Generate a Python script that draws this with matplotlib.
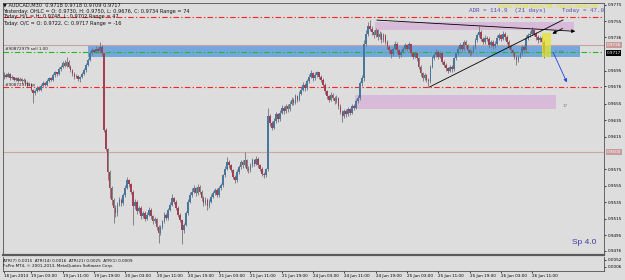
import matplotlib
matplotlib.use("Agg")
import matplotlib.pyplot as plt
import numpy as np

# ---------------- data (prices in 1/10000, i.e. 9717 = 0.9717) ----------------
opens = [9688,9690,9688,9691,9686,9687,9684,9686,9683,9685,9682,9684,9680,9677,9679,9672,9668,9671,9674,9672,
         9677,9680,9678,9683,9686,9684,9690,9693,9691,9697,9700,9704,9701,9706,9700,9696,9691,9687,9689,9685,
         9687,9691,9696,9702,9708,9716,9720,9718,9722,9719,9724,9716,9623,9600,9572,9552,9538,9528,9522,9532,
         9538,9534,9544,9553,9562,9557,9548,9530,9536,9524,9528,9518,9522,9515,9520,9526,9518,9512,9515,9505,
         9498,9505,9512,9520,9516,9526,9532,9540,9536,9528,9520,9514,9502,9508,9522,9536,9544,9548,9552,9546,
         9554,9548,9540,9534,9538,9530,9536,9542,9546,9550,9544,9552,9556,9568,9576,9584,9580,9574,9566,9562,
         9572,9578,9584,9580,9586,9576,9574,9580,9586,9582,9588,9580,9576,9570,9568,9575,9640,9632,9626,9634,
         9642,9636,9644,9650,9646,9652,9648,9655,9660,9656,9664,9660,9667,9672,9678,9674,9682,9688,9692,9686,
         9690,9693,9688,9684,9678,9670,9664,9660,9666,9662,9658,9662,9652,9645,9640,9646,9642,9648,9644,9652,
         9650,9658,9662,9680,9686,9728,9740,9750,9746,9742,9738,9744,9736,9740,9732,9738,9730,9724,9720,9715,
         9722,9728,9720,9714,9718,9722,9726,9722,9727,9716,9712,9716,9710,9700,9692,9686,9690,9684,9682,9700,
         9710,9714,9718,9712,9716,9706,9702,9698,9695,9700,9697,9710,9716,9722,9726,9722,9730,9726,9720,9716,
         9718,9724,9732,9738,9742,9734,9730,9735,9734,9726,9730,9725,9728,9735,9738,9734,9740,9736,9730,9724,
         9720,9716,9712,9708,9712,9716,9724,9720,9735,9738,9740,9744,9740,9736,9732,9735,9730]
highs = [9693,9692,9693,9692,9690,9688,9688,9687,9687,9686,9686,9685,9682,9681,9680,9673,9673,9676,9676,9679,
         9682,9681,9685,9688,9687,9692,9695,9694,9699,9702,9707,9708,9712,9708,9702,9697,9693,9691,9690,9689,
         9693,9698,9704,9710,9719,9723,9722,9725,9724,9730,9726,9717,9625,9601,9574,9555,9540,9532,9535,9542,
         9540,9546,9556,9566,9564,9558,9550,9539,9538,9531,9530,9524,9525,9523,9529,9528,9520,9517,9516,9507,
         9507,9514,9523,9522,9528,9535,9545,9542,9538,9530,9522,9515,9510,9524,9539,9547,9552,9556,9554,9557,
         9556,9550,9543,9541,9540,9539,9545,9549,9553,9552,9555,9559,9570,9579,9590,9586,9582,9576,9568,9575,
         9581,9587,9586,9596,9588,9579,9583,9589,9588,9591,9590,9582,9578,9572,9577,9650,9643,9634,9637,9645,
         9644,9647,9653,9652,9655,9654,9658,9663,9662,9667,9666,9670,9675,9681,9680,9685,9691,9696,9694,9693,
         9695,9694,9690,9686,9680,9672,9666,9669,9668,9664,9665,9663,9654,9647,9649,9648,9651,9650,9655,9654,
         9661,9665,9683,9690,9732,9744,9754,9757,9749,9744,9747,9746,9743,9742,9741,9740,9732,9726,9722,9724,
         9731,9730,9722,9720,9724,9729,9728,9730,9728,9718,9718,9717,9712,9702,9694,9692,9691,9686,9702,9713,
         9717,9721,9720,9719,9717,9708,9704,9700,9702,9702,9712,9718,9725,9729,9728,9733,9732,9727,9722,9720,
         9726,9735,9741,9750,9744,9736,9738,9737,9736,9732,9732,9731,9738,9741,9740,9743,9742,9738,9732,9726,
         9722,9718,9714,9714,9718,9726,9726,9738,9741,9743,9748,9746,9742,9738,9737,9737,9732]
lows = [9685,9686,9687,9684,9685,9682,9683,9681,9682,9680,9681,9678,9675,9676,9670,9656,9666,9669,9670,9671,
        9675,9676,9677,9681,9682,9683,9688,9689,9690,9695,9698,9699,9700,9698,9694,9689,9685,9686,9683,9681,
        9686,9690,9694,9701,9707,9714,9716,9716,9717,9717,9713,9621,9597,9562,9540,9532,9510,9517,9519,9530,
        9531,9532,9542,9551,9554,9545,9507,9527,9521,9522,9515,9516,9512,9513,9518,9515,9509,9510,9502,9485,
        9495,9503,9510,9513,9514,9524,9530,9533,9526,9517,9511,9484,9498,9506,9520,9534,9541,9546,9543,9544,
        9545,9537,9530,9532,9526,9528,9534,9540,9544,9541,9542,9550,9554,9566,9574,9577,9572,9563,9558,9560,
        9570,9576,9577,9578,9573,9571,9572,9578,9579,9580,9577,9573,9567,9565,9566,9573,9628,9623,9624,9632,
        9633,9634,9642,9643,9644,9645,9646,9653,9653,9654,9657,9658,9665,9670,9671,9672,9680,9686,9683,9684,
        9688,9685,9681,9675,9667,9661,9657,9658,9659,9655,9656,9649,9642,9633,9638,9639,9640,9641,9642,9647,
        9648,9656,9660,9677,9683,9725,9737,9743,9739,9735,9736,9733,9734,9729,9730,9727,9721,9717,9710,9713,
        9720,9717,9711,9712,9716,9720,9719,9720,9713,9709,9710,9707,9697,9689,9682,9684,9681,9676,9680,9698,
        9708,9712,9709,9710,9703,9699,9695,9692,9693,9694,9695,9708,9714,9720,9719,9720,9723,9717,9713,9714,
        9716,9722,9730,9736,9731,9727,9728,9731,9723,9724,9722,9723,9726,9733,9731,9732,9733,9727,9721,9717,
        9713,9709,9702,9706,9710,9714,9717,9718,9733,9736,9738,9737,9733,9729,9730,9727,9710]
closes = [9690,9688,9691,9686,9687,9684,9686,9683,9685,9682,9684,9680,9677,9679,9672,9668,9671,9674,9672,9677,
          9680,9678,9683,9686,9684,9690,9693,9691,9697,9700,9704,9701,9706,9700,9696,9691,9687,9689,9685,9687,
          9691,9696,9702,9708,9716,9720,9718,9722,9719,9724,9716,9623,9600,9572,9552,9538,9528,9522,9532,9538,
          9534,9544,9553,9562,9557,9548,9530,9536,9524,9528,9518,9522,9515,9520,9526,9518,9512,9515,9505,9498,
          9505,9512,9520,9516,9526,9532,9540,9536,9528,9520,9514,9502,9508,9522,9536,9544,9548,9552,9546,9554,
          9548,9540,9534,9538,9530,9536,9542,9546,9550,9544,9552,9556,9568,9576,9584,9580,9574,9566,9562,9572,
          9578,9584,9580,9586,9576,9574,9580,9586,9582,9588,9580,9576,9570,9568,9575,9640,9632,9626,9634,9642,
          9636,9644,9650,9646,9652,9648,9655,9660,9656,9664,9660,9667,9672,9678,9674,9682,9688,9692,9686,9690,
          9693,9688,9684,9678,9670,9664,9660,9666,9662,9658,9662,9652,9645,9640,9646,9642,9648,9644,9652,9650,
          9658,9662,9680,9686,9728,9740,9750,9746,9742,9738,9744,9736,9740,9732,9738,9730,9724,9720,9715,9722,
          9728,9720,9714,9718,9722,9726,9722,9727,9716,9712,9716,9710,9700,9692,9686,9690,9684,9682,9700,9710,
          9714,9718,9712,9716,9706,9702,9698,9695,9700,9697,9710,9716,9722,9726,9722,9730,9726,9720,9716,9718,
          9724,9732,9738,9742,9734,9730,9735,9734,9726,9730,9725,9728,9735,9738,9734,9740,9736,9730,9724,9720,
          9716,9712,9708,9712,9716,9724,9720,9735,9738,9740,9744,9740,9736,9732,9735,9730,9717]

time_tick_bars = [0, 14, 30, 46, 62, 78, 94, 110, 126, 142, 158, 174, 190, 206, 222, 238, 254, 270]
time_tick_labels = ["18 Jun 2013", "19 Jun 03:00", "19 Jun 11:00", "19 Jun 19:00", "20 Jun 03:00",
                    "20 Jun 11:00", "20 Jun 19:00", "21 Jun 03:00", "21 Jun 11:00", "21 Jun 19:00",
                    "24 Jun 03:00", "24 Jun 11:00", "24 Jun 19:00", "25 Jun 03:00", "25 Jun 11:00",
                    "25 Jun 19:00", "26 Jun 03:00", "26 Jun 11:00"]
price_ticks = [0.9775, 0.9755, 0.9736, 0.9695, 0.9676, 0.9655, 0.9635, 0.9615,
               0.9575, 0.9555, 0.9535, 0.9515, 0.9495, 0.9476]
price_tick_labels = ["%.4f" % v for v in price_ticks]

sl_price = 0.9760
tp_price = 0.9675
entry_price = 0.9718
bid_price = 0.9717
resist_line = 0.9726
support_line = 0.9596
support_label = "0.9600"

blue_zone = (43.0, 294.5, 0.9712, 0.9726)
pink_zone_hi = (189.7, 291.4, 0.97445, 0.97549)
pink_zone_lo = (179.5, 282.2, 0.9648, 0.9665)
yellow_box = (275.1, 279.7, 0.9712, 0.9741)
down_trend = ((189.2, 0.97568), (293.5, 0.97428))
up_trend = ((217.3, 0.9675), (285.8, 0.97568))
small_arrow = ((286.8, 0.9748), (279.1, 0.97385))
blue_arrow = ((280.2, 0.97203), (288.4, 0.96777))

# ---------------- style ----------------
BG = "#dddddd"
BULL = "#46779f"
BEAR = "#a33f55"
WICK = "#747474"
W, H = 625, 280

plt.rcParams["font.family"] = ["DejaVu Sans"]
fig = plt.figure(figsize=(6.25, 2.8), dpi=100, facecolor=BG)


def fx(px):
    return px / W


def fy(py):
    return 1 - py / H


ax = fig.add_axes([fx(3), fy(255), (604 - 3) / W, (255 - 3) / H], facecolor=BG)
sub = fig.add_axes([fx(3), fy(271), (604 - 3) / W, (271 - 256.5) / H], facecolor=BG)

o = np.array(opens) / 1e4
h = np.array(highs) / 1e4
l = np.array(lows) / 1e4
c = np.array(closes) / 1e4
idx = np.arange(len(c))
up = c >= o

XMAX = (604 - 3) / 1.956 - 0.5
ax.set_xlim(-0.5, XMAX)
ax.set_ylim(0.94710, 0.97774)


def rect(a, z, color, alpha=1.0, zo=1):
    x0, x1, y0, y1 = z
    a.fill_between([x0, x1], y0, y1, color=color, alpha=alpha, lw=0, zorder=zo)


rect(ax, blue_zone, "#6fa6dc", 0.95)
rect(ax, pink_zone_hi, "#d8bbd8", 1.0)
rect(ax, pink_zone_lo, "#d8bbd8", 1.0)

# horizontal lines
dd = (0, (5.0, 2.0, 1.2, 2.0))
ax.axhline(resist_line, color="#c9a3a3", lw=0.8, zorder=2)
ax.axhline(support_line, color="#cfa5a5", lw=0.8, zorder=2)
ax.axhline(sl_price, color="#ff2424", lw=0.8, ls=dd, zorder=2)
ax.axhline(tp_price, color="#ff2424", lw=0.8, ls=dd, zorder=2)
ax.axhline(entry_price, color="#22bb22", lw=0.8, ls=dd, zorder=2)

# candles
ax.vlines(idx, l, h, colors=WICK, lw=0.6, zorder=3)
body = np.maximum(np.abs(c - o), 0.00003)
ax.bar(idx[up], body[up], bottom=o[up], width=0.85, color=BULL, lw=0, zorder=4)
ax.bar(idx[~up], body[~up], bottom=c[~up], width=0.85, color=BEAR, lw=0, zorder=4)

rect(ax, yellow_box, "#e6e62a", 0.75, zo=5)

# trend lines and arrows
ax.plot([up_trend[0][0], up_trend[1][0]], [up_trend[0][1], up_trend[1][1]], color="black", lw=0.6, zorder=6)
ax.annotate("", xy=down_trend[1], xytext=down_trend[0],
            arrowprops=dict(arrowstyle="-|>", color="black", lw=0.6, mutation_scale=5), zorder=6)
ax.annotate("", xy=small_arrow[1], xytext=small_arrow[0],
            arrowprops=dict(arrowstyle="-|>", color="black", lw=0.6, mutation_scale=5), zorder=6)
ax.annotate("", xy=blue_arrow[1], xytext=blue_arrow[0],
            arrowprops=dict(arrowstyle="-|>", color="#2244dd", lw=0.6, mutation_scale=5), zorder=6)

ax.text(280.9, entry_price, "-0.49", fontsize=3, color="#5a7aa0", va="center", ha="left", zorder=7)
ax.text(285.6, 0.96525, "17", fontsize=3, color="#6a78a0", va="center", ha="left", zorder=7)
ax.text(0.5, entry_price + 0.00008, "#90872979 sell 1.00", fontsize=3, color="#202020", va="bottom", ha="left", zorder=7)
ax.text(0.5, tp_price + 0.00008, "#90872979 tp", fontsize=3, color="#202020", va="bottom", ha="left", zorder=7)

# price axis on the right
ax.yaxis.tick_right()
ax.set_yticks(price_ticks)
ax.set_yticklabels(price_tick_labels)
ax.tick_params(axis="y", labelsize=3, length=1.5, width=0.5, pad=1, colors="black")
ax.set_xticks([])
yt = ax.get_yaxis_transform()
for val, txt, fc in [(resist_line, "0.9726", "#c99a9a"), (bid_price, "0.9717", "black"),
                     (support_line, support_label, "#c99a9a")]:
    ax.text(1.004, val, txt, transform=yt, fontsize=3, color="white", va="center", ha="left",
            bbox=dict(facecolor=fc, edgecolor="none", pad=0.6), clip_on=False, zorder=8)

for s in ax.spines.values():
    s.set_color("#505050")
    s.set_linewidth(0.6)
ax.spines["bottom"].set_linewidth(1.6)
ax.spines["bottom"].set_color("#5a5a5a")

# sub window
sub.set_xlim(-0.5, XMAX)
sub.set_ylim(-0.0024, 0.0075)
sub.yaxis.tick_right()
sub.set_yticks([0.0052, 0.0006])
sub.set_yticklabels(["0.0052", "0.0006"])
sub.tick_params(axis="y", labelsize=3, length=1.5, width=0.5, pad=1)
sub.set_xticks(time_tick_bars)
sub.set_xticklabels(time_tick_labels, ha="left")
sub.tick_params(axis="x", labelsize=3, length=1.5, width=0.5, pad=1)
for s in sub.spines.values():
    s.set_color("#505050")
    s.set_linewidth(0.6)
sub.spines["top"].set_visible(False)

# header texts
fs = 3.6
fig.text(fx(3), fy(5), "\u25bc AUDCAD,M30  0.9718 0.9718 0.9709 0.9717", fontsize=fs, va="center", ha="left", color="#111111")
fig.text(fx(3), fy(11), "Yesterday: OHLC = O: 0.9730, H: 0.9750, L: 0.9676, C: 0.9734 Range = 74", fontsize=fs, va="center", ha="left", color="#111111")
fig.text(fx(3), fy(16.5), "Today: H/L = H: 0.9748, L: 0.9702 Range = 47", fontsize=fs, va="center", ha="left", color="#111111")
fig.text(fx(3), fy(23.5), "Today: O/C = O: 0.9722, C: 0.9717 Range = -16", fontsize=fs, va="center", ha="left", color="#111111")

fig.text(fx(498), fy(6.5), "Alerts: Email Alerts ON   Pop up Alerts ON", fontsize=3.4, va="center", ha="left", color="#e6e600")
fig.text(fx(469), fy(10.5), "ADR = 114.9  (21 days)", fontsize=4.2, family="Liberation Mono", va="center", ha="left", color="#5a4aa8")
fig.text(fx(562), fy(10.5), "Today = 47.0", fontsize=4.2, family="Liberation Mono", va="center", ha="left", color="#5a4aa8")
fig.text(fx(572), fy(243), "Sp 4.0", fontsize=6, family="Liberation Sans", va="center", ha="left", color="#3c3ca0")

fig.text(fx(3), fy(260.5), "ATR(7) 0.0015  ATR(14) 0.0016  ATR(21) 0.0025  ATR(1) 0.0009", fontsize=3, va="center", ha="left", color="#111111")
fig.text(fx(3), fy(266.5), "FxPro MT4, \u00a9 2001-2013, MetaQuotes Software Corp.", fontsize=3, va="center", ha="left", color="#111111")

fig.savefig("out.png", dpi=100, facecolor=BG)
